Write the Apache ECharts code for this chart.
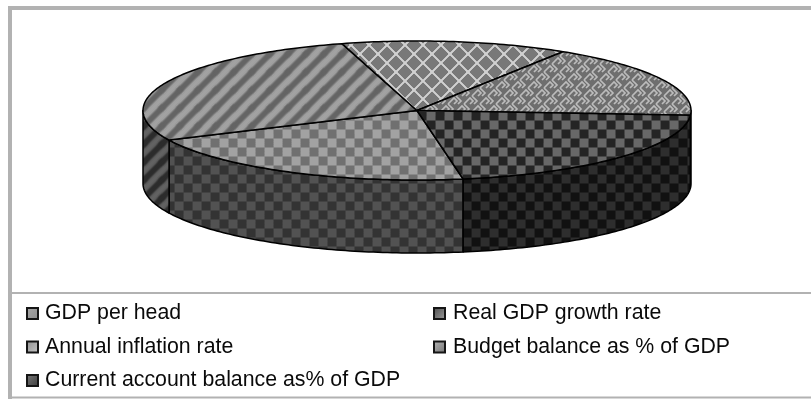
<!DOCTYPE html>
<html>
<head>
<meta charset="utf-8">
<style>html,body{margin:0;padding:0;background:#fff}#chart{width:811px;height:399px}</style>
<script src="https://cdn.jsdelivr.net/npm/echarts@6/dist/echarts.min.js"></script>
</head>
<body>
<div id="chart"></div>
<script>
// Indicator names and their shares of the pie, clockwise from the first slice (degrees of the circle).
const names = ['GDP per head', 'Real GDP growth rate', 'Annual inflation rate', 'Budget balance as % of GDP', 'Current account balance as% of GDP'];
const shares = [74.5, 99.3, 48.1, 61.8, 76.3];
const leftLegend = ['GDP per head', 'Annual inflation rate', 'Current account balance as% of GDP'];
const rightLegend = ['Real GDP growth rate', 'Budget balance as % of GDP'];
const swatchTones = [['#a8a8a8', '#8c8c8c'], ['#4a4a4a', '#a0a0a0'], ['#909090', '#c8c8c8'], ['#b8b8b8', '#707070'], ['#7a7a7a', '#3a3a3a']];

// Pie geometry on the page.
const disc = { cx: 417, cy: 110.5, rx: 274, ry: 69.5, depth: 73, startDeg: 80.3 };

// Builds a seamless repeating tile; strokes are softened across the wrap-around.
function tile(w, h, bg, paint, blur) {
  const big = document.createElement('canvas');
  big.width = w * 3; big.height = h * 3;
  const b = big.getContext('2d');
  b.fillStyle = bg; b.fillRect(0, 0, w * 3, h * 3);
  b.filter = 'blur(' + blur + 'px)';
  for (let i = 0; i < 3; i++) for (let j = 0; j < 3; j++) {
    b.save(); b.translate(i * w, j * h); paint(b); b.restore();
  }
  const out = document.createElement('canvas');
  out.width = w; out.height = h;
  out.getContext('2d').drawImage(big, -w, -h);
  return out;
}
function checker(a, c) {
  const s = 9;
  return { image: tile(2 * s, 2 * s, a, g => {
    g.fillStyle = c; g.fillRect(0, 0, s, s); g.fillRect(s, s, s, s);
  }, 0.5), repeat: 'repeat', x: 3.5, y: 3.5 };
}
function stripes(bg, line) {
  const p = 18;
  return { image: tile(p, p, bg, g => {
    g.strokeStyle = line; g.lineWidth = 4;
    for (let k = -1; k <= 2; k++) { g.beginPath(); g.moveTo(k * p - 2, p + 2); g.lineTo(k * p + p + 2, -2); g.stroke(); }
  }, 1), repeat: 'repeat' };
}
function lattice(bg, line) {
  const p = 18;
  return { image: tile(p, p, bg, g => {
    g.strokeStyle = line; g.lineWidth = 1.5;
    for (let k = -1; k <= 2; k++) {
      g.beginPath(); g.moveTo(k * p - 1, p + 1); g.lineTo(k * p + p + 1, -1); g.stroke();
      g.beginPath(); g.moveTo(k * p - 1, -1); g.lineTo(k * p + p + 1, p + 1); g.stroke();
    }
  }, 0.25), repeat: 'repeat' };
}
function zigzag(bg, line) {
  const w = 16, h = 16;
  return { image: tile(w, h, bg, g => {
    g.strokeStyle = line; g.lineWidth = 1.7;
    // Interlocking chevrons: rising strokes in one row, falling strokes in the next.
    [[0, 2], [8, 10]].forEach(([ox, oy]) => {
      g.beginPath(); g.moveTo(ox, oy + 6); g.lineTo(ox + 6, oy); g.lineTo(ox + 9, oy + 3); g.lineTo(ox + 6, oy + 6); g.stroke();
      g.beginPath(); g.moveTo(ox + 8, oy - 2); g.lineTo(ox + 13, oy + 3); g.lineTo(ox + 10, oy + 6); g.stroke();
    });
  }, 0.3), repeat: 'repeat' };
}

// Fill of each slice: lid surface and rim wall.
const lidFills = [
  checker('#a2a2a2', '#707070'),
  stripes('#a2a2a2', '#646464'),
  lattice('#787878', '#d0d0d0'),
  zigzag('#6e6e6e', '#bcbcbc'),
  checker('#686868', '#242424')
];
const wallFills = [
  checker('#525252', '#333333'),
  stripes('#626262', '#2c2c2c'),
  lattice('#3c3c3c', '#646464'),
  zigzag('#383838', '#5e5e5e'),
  checker('#2e2e2e', '#111111')
];

const rad = d => d * Math.PI / 180;
function rimPoint(deg, drop) {
  return [disc.cx + disc.rx * Math.cos(rad(deg)), disc.cy + disc.ry * Math.sin(rad(deg)) + drop];
}
function arc(from, to, drop) {
  const pts = [];
  const n = Math.max(2, Math.ceil(Math.abs(to - from)));
  for (let i = 0; i <= n; i++) pts.push(rimPoint(from + (to - from) * i / n, drop));
  return pts;
}
const total = shares.reduce((a, b) => a + b, 0);

// One custom series per indicator so the legend stays tied to the slices.
function sliceRenderer(index) {
  return function (params, api) {
    const before = shares.slice(0, index).reduce((a, b) => a + b, 0);
    const from = disc.startDeg + before / total * 360;
    const to = from + api.value(0) / total * 360;
    const children = [];
    // The wall is only visible on the near half of the disc.
    [[0, 180], [360, 540]].forEach(([lo, hi]) => {
      const a = Math.max(from, lo), b = Math.min(to, hi);
      if (b > a) {
        children.push({
          type: 'polygon',
          shape: { points: arc(a, b, 0).concat(arc(b, a, disc.depth)) },
          style: { fill: wallFills[index], stroke: '#000', lineWidth: 1.5, lineJoin: 'round' },
          silent: true
        });
      }
    });
    children.push({
      type: 'polygon',
      shape: { points: [[disc.cx, disc.cy]].concat(arc(from, to, 0)) },
      style: { fill: lidFills[index], stroke: '#000', lineWidth: 1.5, lineJoin: 'round' },
      silent: true
    });
    return { type: 'group', children };
  };
}

const legendEntries = list => list.map(name => {
  const tones = swatchTones[names.indexOf(name)];
  return {
    name,
    icon: 'rect',
    itemStyle: {
      color: { type: 'linear', x: 0, y: 0, x2: 1, y2: 1, colorStops: [{ offset: 0, color: tones[0] }, { offset: 1, color: tones[1] }] },
      borderColor: '#151515', borderWidth: 2
    }
  };
});
const legendBase = {
  orient: 'vertical', top: 302, padding: 0, itemWidth: 11, itemHeight: 11, itemGap: 10.5,
  selectedMode: false,
  textStyle: { fontFamily: 'Liberation Sans', fontSize: 21.3, lineHeight: 23, color: '#0a0a0a' }
};
const labelIndent = col => ({ textStyle: Object.assign({}, legendBase.textStyle, { padding: [0, 0, 0, col] }) });

const frameColor = '#b2b2b2';
const chart = echarts.init(document.getElementById('chart'), null, { renderer: 'canvas' });
chart.setOption({
  animation: false,
  backgroundColor: '#fff',
  legend: [
    Object.assign({}, legendBase, labelIndent(2), { left: 26, data: legendEntries(leftLegend) }),
    Object.assign({}, legendBase, labelIndent(3), { left: 433, data: legendEntries(rightLegend) })
  ],
  graphic: [
    { type: 'rect', shape: { x: 8, y: 6, width: 803, height: 4 }, style: { fill: frameColor } },
    { type: 'rect', shape: { x: 8, y: 6, width: 4, height: 393 }, style: { fill: frameColor } },
    { type: 'rect', shape: { x: 8, y: 292, width: 803, height: 2 }, style: { fill: frameColor } },
    { type: 'rect', shape: { x: 8, y: 396.5, width: 803, height: 2 }, style: { fill: frameColor } }
  ],
  series: names.map((name, i) => ({
    type: 'custom',
    name,
    coordinateSystem: 'none',
    data: [[shares[i]]],
    renderItem: sliceRenderer(i),
    silent: true
  }))
});
</script>
</body>
</html>
